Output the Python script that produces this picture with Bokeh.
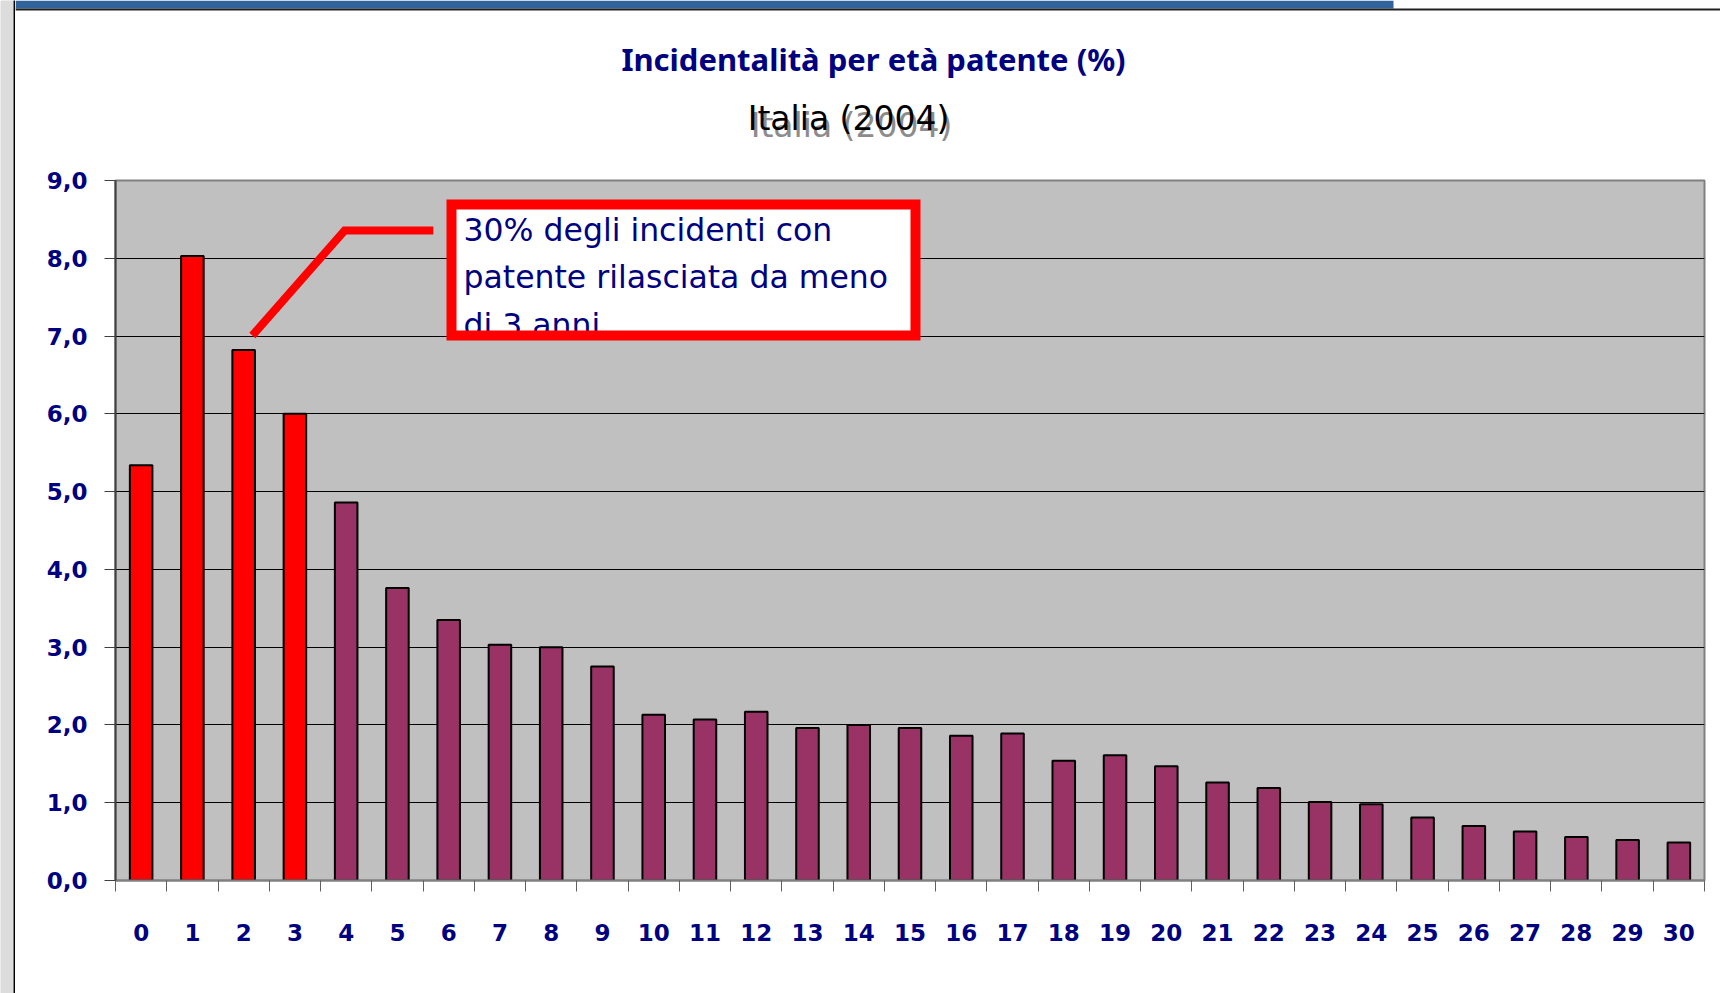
from bokeh.plotting import figure
from bokeh.models import Range1d, FixedTicker, ColumnDataSource
from bokeh.layouts import column, row
from bokeh.core.properties import value
from bokeh.embed import file_html
from bokeh.resources import INLINE

# ---- data ----
years = list(range(31))
year_labels = [str(y) for y in years]
incidence = [5.34, 8.03, 6.82, 6.00, 4.86, 3.76, 3.35, 3.03, 3.00, 2.75,
             2.13, 2.07, 2.17, 1.96, 2.00, 1.96, 1.86, 1.89, 1.54, 1.61,
             1.47, 1.26, 1.19, 1.01, 0.98, 0.81, 0.70, 0.63, 0.56, 0.52, 0.49]
highlight_years = 4  # first years shown in red
y_ticks = list(range(10))
y_tick_labels = ["%d,0" % v for v in y_ticks]

title_text = "Incidentalità per età patente (%)"
subtitle_text = "Italia (2004)"
note_lines = ["30% degli incidenti con", "patente rilasciata da meno", "di 3 anni"]

RED = "#FF0000"
PLUM = "#993366"
NAVY = "#000080"
BLUE_BAR = "#31649A"
SIDE_GRAY = "#DCDCDC"

TOP_H = 165
MAIN_H = 826
STRIP_W = 13
EDGE_W = 2
MAIN_W = 1720 - STRIP_W - EDGE_W


def blank(w, h, x0=0, color="white"):
    f = figure(width=w, height=h, output_backend="svg", toolbar_location=None,
               x_axis_type=None, y_axis_type=None,
               x_range=Range1d(x0, x0 + w), y_range=Range1d(h, 0),
               min_border=0, min_border_left=0, min_border_right=0,
               min_border_top=0, min_border_bottom=0)
    f.outline_line_color = None
    f.background_fill_color = color
    f.border_fill_color = color
    f.grid.grid_line_color = None
    return f


# ---- window edge on the left ----
strip = blank(STRIP_W, 993, color=SIDE_GRAY)
edge = blank(EDGE_W, 993, color="black")

# ---- header with titles ----
x0 = STRIP_W + EDGE_W
top = blank(MAIN_W, TOP_H, x0=x0)
top.quad(left=[x0], right=[1393], top=[0], bottom=[8], fill_color=BLUE_BAR, line_color=None)
top.quad(left=[x0], right=[1720], top=[8], bottom=[10], fill_color="#202020", line_color=None)
top.text(x=[873], y=[58], text=[title_text], text_font=value("Noto Sans"),
         text_font_style="bold", text_font_size="31px", text_color=NAVY,
         text_align="center", text_baseline="alphabetic")
top.text(x=[851], y=[125], text=[subtitle_text], text_font=value("DejaVu Sans"),
         text_font_size="33px", text_color="#8C8C8C",
         text_align="center", text_baseline="alphabetic")
top.text(x=[848], y=[118], text=[subtitle_text], text_font=value("DejaVu Sans"),
         text_font_size="33px", text_color="black",
         text_align="center", text_baseline="alphabetic")

# ---- main chart ----
colors = [RED if i < highlight_years else PLUM for i in range(len(years))]
src = ColumnDataSource(dict(x=years, top=incidence, color=colors))

p = figure(width=MAIN_W, height=MAIN_H, output_backend="svg", toolbar_location=None,
           x_range=Range1d(-0.5, 30.5), y_range=Range1d(0, 9),
           min_border_left=115 - x0, min_border_right=16, min_border_top=15,
           min_border_bottom=111)
p.background_fill_color = "#C0C0C0"
p.border_fill_color = "white"
p.outline_line_color = "#808080"
p.outline_line_width = 2

p.xgrid.grid_line_color = None
p.ygrid.ticker = FixedTicker(ticks=y_ticks)
p.ygrid.grid_line_color = "#000000"
p.ygrid.grid_line_width = 1

p.vbar(x="x", top="top", width=0.44, source=src, fill_color="color",
       line_color="black", line_width=2)

ya = p.yaxis[0]
ya.ticker = FixedTicker(ticks=y_ticks)
ya.major_label_overrides = {t: l for t, l in zip(y_ticks, y_tick_labels)}
ya.major_label_text_font = "DejaVu Sans"
ya.major_label_text_font_style = "bold"
ya.major_label_text_font_size = "23px"
ya.major_label_text_color = NAVY
ya.major_tick_out = 11
ya.major_tick_in = 0
ya.major_tick_line_color = "#404040"
ya.minor_tick_line_color = None
ya.axis_line_color = "#404040"
ya.axis_line_width = 2
ya.major_label_standoff = 17

xa = p.xaxis[0]
xa.ticker = FixedTicker(ticks=years, minor_ticks=[y - 0.5 for y in years] + [years[-1] + 0.5])
xa.major_label_overrides = {t: l for t, l in zip(years, year_labels)}
xa.major_label_text_font = "DejaVu Sans"
xa.major_label_text_font_style = "bold"
xa.major_label_text_font_size = "23px"
xa.major_label_text_color = NAVY
xa.major_tick_line_color = None
xa.major_tick_out = 0
xa.major_tick_in = 0
xa.minor_tick_out = 11
xa.minor_tick_in = 0
xa.minor_tick_line_color = "#606060"
xa.minor_tick_line_width = 1
xa.axis_line_color = "#808080"
xa.axis_line_width = 2
xa.major_label_standoff = 32

# annotation: leader line and box
p.line(x=[2.17, 3.97, 5.70], y=[7.007, 8.357, 8.357], line_color=RED, line_width=8,
       line_join="miter", line_cap="butt")
p.quad(left=[6.055], right=[15.107], bottom=[7.007], top=[8.691],
       fill_color="white", line_color=None)
p.text(x=[6.289, 6.289, 6.289], y=[8.362, 7.753, 7.142], text=note_lines,
       text_font=value("DejaVu Sans"), text_font_size="31.5px", text_color=NAVY,
       text_align="left", text_baseline="alphabetic")
p.quad(left=[6.055], right=[15.107], bottom=[7.007], top=[8.691],
       fill_color=None, line_color=RED, line_width=10, line_join="miter")

layout = row(strip, edge, column(row(top), row(p)))
open("out.html", "w").write(file_html(layout, INLINE))
